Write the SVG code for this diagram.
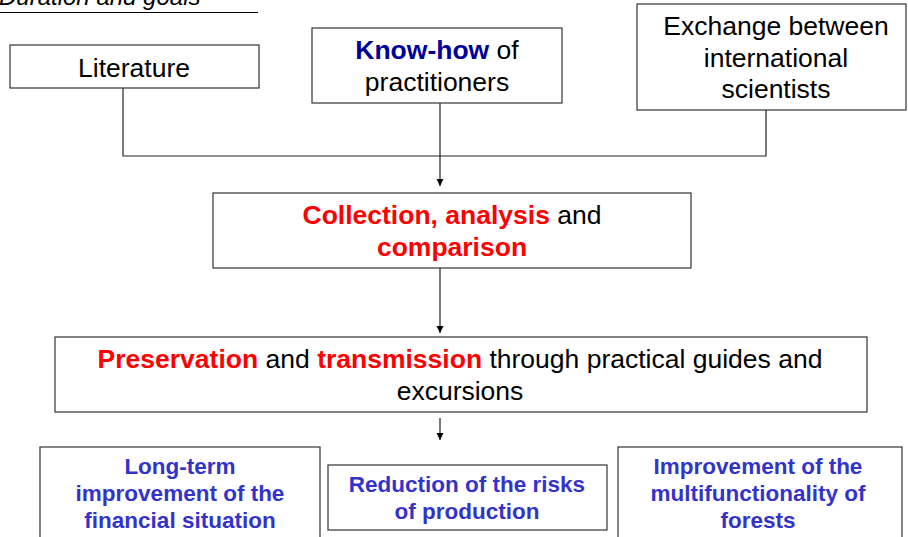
<svg xmlns="http://www.w3.org/2000/svg" width="908" height="537" viewBox="0 0 908 537">
<style>
.box{fill:#fff;stroke:#333;stroke-width:1.2}
.t{font-family:"Liberation Sans",Arial,sans-serif;font-size:26.5px;fill:#000;text-anchor:middle}
.b{font-weight:bold}
.red{fill:#ff0000}
.navy{fill:#000099}
.g{font-family:"Liberation Sans",Arial,sans-serif;font-size:22.5px;font-weight:bold;fill:#3333cc;text-anchor:middle}
.c{fill:none;stroke:#222;stroke-width:1.2}
</style>
<defs>
<marker id="ah" markerWidth="8" markerHeight="8" refX="7" refY="4" orient="auto" markerUnits="userSpaceOnUse">
<path d="M0,0.5 L7,4 L0,7.5 Z" fill="#000"/>
</marker>
</defs>
<g id="title">
<text x="-1" y="5" font-family="Liberation Sans,Arial,sans-serif" font-size="24" font-style="italic" fill="#000">Duration and goals</text>
<line x1="0" y1="12.5" x2="258" y2="12.5" stroke="#000" stroke-width="1.2"/>
</g>
<g id="connectors">
<polyline class="c" points="123,88 123,156 766,156 766,110"/>
<line class="c" x1="440" y1="103" x2="440" y2="186" marker-end="url(#ah)"/>
<line class="c" x1="440" y1="268" x2="440" y2="333" marker-end="url(#ah)"/>
<line class="c" x1="440" y1="418" x2="440" y2="440" marker-end="url(#ah)"/>
</g>
<g id="literature">
<rect class="box" x="10" y="45" width="249" height="43"/>
<text class="t" x="134" y="77">Literature</text>
</g>
<g id="knowhow">
<rect class="box" x="312" y="28" width="250" height="75"/>
<text class="t" x="437" y="59"><tspan class="b navy">Know-how</tspan> of</text>
<text class="t" x="437" y="91">practitioners</text>
</g>
<g id="exchange">
<rect class="box" x="637" y="4" width="269" height="106"/>
<text class="t" x="776" y="35">Exchange between</text>
<text class="t" x="776" y="67">international</text>
<text class="t" x="776" y="98">scientists</text>
</g>
<g id="collection">
<rect class="box" x="213" y="193" width="478" height="75"/>
<text class="t" x="452" y="224"><tspan class="b red">Collection, analysis</tspan> and</text>
<text class="t b red" x="452" y="256">comparison</text>
</g>
<g id="preservation">
<rect class="box" x="55" y="337" width="812" height="75"/>
<text class="t" x="460" y="368"><tspan class="b red">Preservation</tspan> and <tspan class="b red">transmission</tspan> through practical guides and</text>
<text class="t" x="460" y="400">excursions</text>
</g>
<g id="financial">
<rect class="box" x="40" y="447" width="280" height="100"/>
<text class="g" x="180" y="474">Long-term</text>
<text class="g" x="180" y="501">improvement of the</text>
<text class="g" x="180" y="528">financial situation</text>
</g>
<g id="risks">
<rect class="box" x="328" y="465" width="279" height="65"/>
<text class="g" x="467" y="492">Reduction of the risks</text>
<text class="g" x="467" y="519">of production</text>
</g>
<g id="multifunctionality">
<rect class="box" x="618" y="447" width="284" height="100"/>
<text class="g" x="758" y="474">Improvement of the</text>
<text class="g" x="758" y="501">multifunctionality of</text>
<text class="g" x="758" y="528">forests</text>
</g>
</svg>
